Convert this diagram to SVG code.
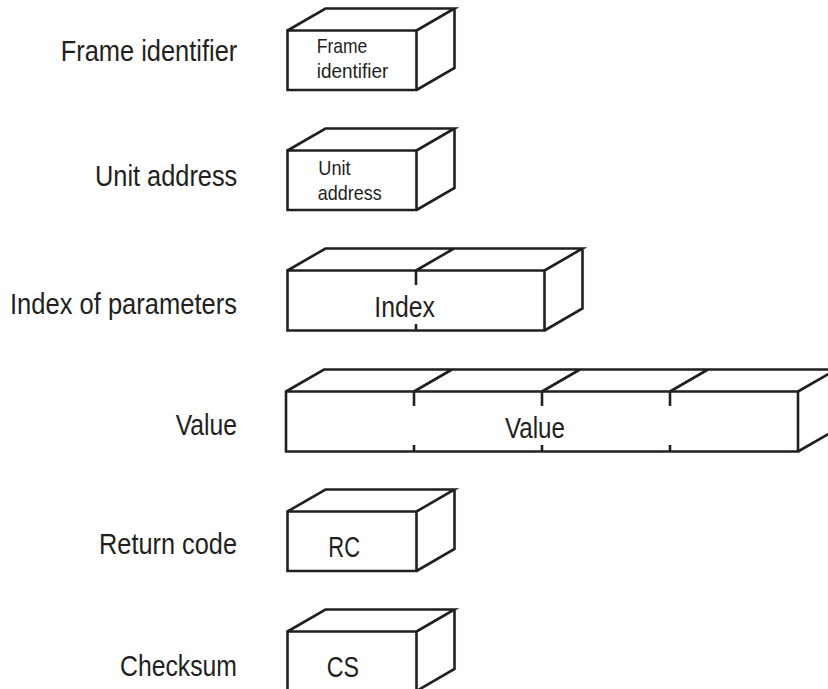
<svg xmlns="http://www.w3.org/2000/svg" width="828" height="689" viewBox="0 0 828 689">
<style>
  .box { fill: none; stroke: #231f20; stroke-width: 2.6; stroke-linejoin: miter; stroke-linecap: butt; }
  .lbl { font-family: "Liberation Sans", Arial, sans-serif; font-size: 29px; fill: #231f20; }
  .in { font-family: "Liberation Sans", Arial, sans-serif; font-size: 29px; fill: #231f20; }
  .sm { font-size: 21px; }
</style>
<rect width="828" height="689" fill="#ffffff"/>
<g id="frame-identifier">
  <text class="lbl" x="60.7" y="60.7" textLength="176.6" lengthAdjust="spacingAndGlyphs">Frame identifier</text>
  <path class="box" d="M287.5,30.5 H416.5 V90 H287.5 Z M287.5,30.5 L325.5,8.5 H454.5 L416.5,30.5 M454.5,8.5 V68 L416.5,90"/>
  <text class="in sm" x="316.7" y="53.3" textLength="50.6" lengthAdjust="spacingAndGlyphs">Frame</text>
  <text class="in sm" x="316.7" y="78.3" textLength="71.7" lengthAdjust="spacingAndGlyphs">identifier</text>
</g>
<g id="unit-address">
  <text class="lbl" x="95" y="186" textLength="142.3" lengthAdjust="spacingAndGlyphs">Unit address</text>
  <path class="box" d="M287.5,150.5 H416.5 V210 H287.5 Z M287.5,150.5 L325.5,128.5 H454.5 L416.5,150.5 M454.5,128.5 V188 L416.5,210"/>
  <text class="in sm" x="318.3" y="175" textLength="32.4" lengthAdjust="spacingAndGlyphs">Unit</text>
  <text class="in sm" x="317.7" y="200" textLength="64" lengthAdjust="spacingAndGlyphs">address</text>
</g>
<g id="index-of-parameters">
  <text class="lbl" x="10" y="314" textLength="227" lengthAdjust="spacingAndGlyphs">Index of parameters</text>
  <path class="box" d="M287.5,270.5 H544.5 V330.5 H287.5 Z M287.5,270.5 L325.5,248.5 H582.5 L544.5,270.5 M582.5,248.5 V308.5 L544.5,330.5 M416,270.5 L454,248.5 M416,270.5 V285 M416,324 V330.5"/>
  <text class="in" x="374.3" y="316.7" textLength="60.7" lengthAdjust="spacingAndGlyphs" style="font-size:30px">Index</text>
</g>
<g id="value">
  <text class="lbl" x="175.7" y="435" textLength="61.3" lengthAdjust="spacingAndGlyphs">Value</text>
  <path class="box" d="M286,391.5 H798 V451.5 H286 Z M286,391.5 L324,369.5 H836 L798,391.5 M836,369.5 V429.5 L798,451.5 M414,391.5 L452,369.5 M542,391.5 L580,369.5 M670,391.5 L708,369.5 M414,391.5 V406 M414,445 V451.5 M542,391.5 V406 M542,445 V451.5 M670,391.5 V406 M670,445 V451.5"/>
  <text class="in" x="505" y="438" textLength="60" lengthAdjust="spacingAndGlyphs">Value</text>
</g>
<g id="return-code">
  <text class="lbl" x="99" y="554.3" textLength="138" lengthAdjust="spacingAndGlyphs">Return code</text>
  <path class="box" d="M287.5,511.5 H416.5 V571 H287.5 Z M287.5,511.5 L325.5,489.5 H454.5 L416.5,511.5 M454.5,489.5 V549 L416.5,571"/>
  <text class="in" x="328.3" y="556.7" textLength="31.7" lengthAdjust="spacingAndGlyphs">RC</text>
</g>
<g id="checksum">
  <text class="lbl" x="120" y="676" textLength="117" lengthAdjust="spacingAndGlyphs">Checksum</text>
  <path class="box" d="M287.5,631.5 H416.5 V691 H287.5 Z M287.5,631.5 L325.5,609.5 H454.5 L416.5,631.5 M454.5,609.5 V669 L416.5,691"/>
  <text class="in" x="326.7" y="677.3" textLength="32.3" lengthAdjust="spacingAndGlyphs">CS</text>
</g>
<g id="connectors"/>
</svg>
